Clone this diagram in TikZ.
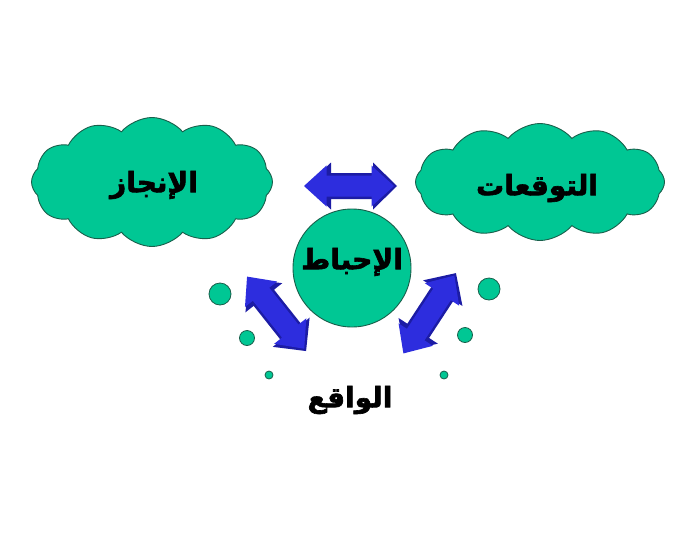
\documentclass[tikz,border=0pt]{standalone}
\usepackage{fontspec}
\usetikzlibrary{shapes.symbols}
\newfontfamily\arabicfont[Script=Arabic,BoldFont={DejaVu Sans Bold},BoldFeatures={FakeBold=2.2}]{DejaVu Sans}
\TeXXeTstate=1
\definecolor{cloudgreen}{RGB}{0,199,148}
\definecolor{cloudline}{RGB}{25,95,75}
\definecolor{arrdark}{RGB}{28,28,165}
\definecolor{arrmain}{RGB}{45,45,222}
\newcommand\arrpoly[4]{% half-length, head length, head half-width, shaft half-width
  (-#1,0) -- (-#1+#2,#3) -- (-#1+#2,#4) -- (#1-#2,#4) -- (#1-#2,#3) -- (#1,0)
  -- (#1-#2,-#3) -- (#1-#2,-#4) -- (-#1+#2,-#4) -- (-#1+#2,-#3) -- cycle}
\newcommand\dblarr[4]{% cx, cy, angle, half-length
  \begin{scope}[shift={(#1,#2)},rotate=#3]
    \fill[arrdark] \arrpoly{#4}{24}{23.5}{13};
    \fill[arrmain] \arrpoly{#4-3}{22.5}{20.5}{10.5};
  \end{scope}}
\begin{document}
\begin{tikzpicture}[x=1pt,y=-1pt,
  cloudbox/.style={cloud, cloud puffs=12, cloud puff arc=100, cloud ignores aspect,
    draw=cloudline, line width=0.9pt, fill=cloudgreen, inner sep=0pt},
  dot/.style={circle, draw=cloudline, line width=0.8pt, fill=cloudgreen, inner sep=0pt},
  lbl/.style={font=\arabicfont\bfseries\fontsize{28}{32}\selectfont, text=black}]
\useasboundingbox (0,0) rectangle (682,533);
\fill[white] (0,0) rectangle (682,533);
% clouds
\node[cloudbox, minimum width=241, minimum height=129] (achieve) at (152,182) {};
\node[lbl] at (154,185) {\beginR الإنجاز\endR};
\node[cloudbox, minimum width=249, minimum height=117] (expect) at (540,182) {};
\node[lbl] at (537,188) {\beginR التوقعات\endR};
% central circle
\node[dot, line width=0.9pt, minimum size=118] (frust) at (352,268) {};
\node[lbl] at (352,262) {\beginR الإحباط\endR};
% reality
\node[lbl] (real) at (350,400) {\beginR الواقع\endR};
% arrows
\dblarr{352}{186}{0}{45}
\dblarr{277.5}{315}{-51.6}{46}
\dblarr{430.5}{312}{56.8}{46.5}
% bubbles
\node[dot, minimum size=22] (bl1) at (220,294) {};
\node[dot, minimum size=15] (bl2) at (247,338) {};
\node[dot, minimum size=8] (bl3) at (269,375) {};
\node[dot, minimum size=22] (br1) at (489,289) {};
\node[dot, minimum size=15] (br2) at (465,335) {};
\node[dot, minimum size=8] (br3) at (444,375) {};
\end{tikzpicture}
\end{document}
